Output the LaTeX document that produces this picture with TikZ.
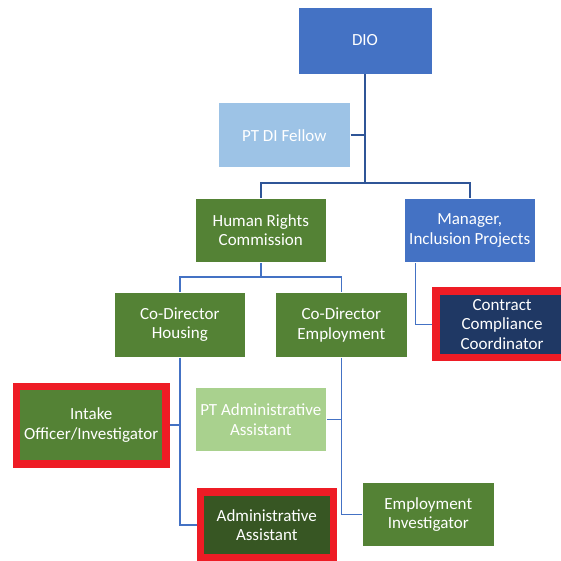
\documentclass[tikz,border=0pt]{standalone}
\usepackage{fontspec}
\setmainfont{Carlito}
\usetikzlibrary{calc}
\definecolor{cblue}{HTML}{4472C4}
\definecolor{clight}{HTML}{9DC3E6}
\definecolor{cgreen}{HTML}{548235}
\definecolor{cnavy}{HTML}{1F3864}
\definecolor{clgreen}{HTML}{A9D18E}
\definecolor{cdgreen}{HTML}{375623}
\definecolor{cred}{HTML}{EE1C25}
\definecolor{clineA}{HTML}{2F5597}
\definecolor{clineB}{HTML}{4472C4}
\tikzset{
  box/.style={rectangle, inner sep=0pt, align=center, text=white,
    font=\fontsize{17}{19.5}\selectfont, draw=white, line width=0.75pt},
  redbox/.style={box, draw=cred, line width=7.5pt},
  conA/.style={draw=clineA, line width=1.6pt},
  conB/.style={draw=clineB, line width=1.6pt},
}
\begin{document}
\begin{tikzpicture}[x=1pt,y=-1pt]
\useasboundingbox (0,0) rectangle (561,560);
\clip (0,0) rectangle (561,560);
\node[box, fill=cblue, minimum width=134pt, minimum height=67pt] (dio) at (365,40.5) {DIO};
\node[box, fill=clight, minimum width=132pt, minimum height=65pt] (ptdi) at (284.3,135.2) {PT DI Fellow};
\node[box, fill=cgreen, minimum width=131.7pt, minimum height=64.7pt] (hrc) at (260.8,230.3) {Human Rights\\Commission};
\node[box, fill=cblue, minimum width=131.3pt, minimum height=64.7pt] (mgr) at (469.7,230.3) {Manager,\\Inclusion Projects};
\node[box, fill=cgreen, minimum width=131.7pt, minimum height=65pt] (coh) at (179.8,324.8) {Co-Director\\Housing};
\node[box, fill=cgreen, minimum width=131.7pt, minimum height=65pt] (coe) at (341.3,324.8) {Co-Director\\Employment};
\node[redbox, fill=cnavy, minimum width=131.8pt, minimum height=66.6pt] (ccc) at (502.1,324.4) {Contract\\Compliance\\Coordinator};
\node[redbox, fill=cgreen, minimum width=149.9pt, minimum height=77.5pt] (intake) at (91.25,425) {Intake\\Officer/Investigator};
\node[box, fill=clgreen, minimum width=131.7pt, minimum height=64.4pt] (ptadmin) at (260.8,419.5) {PT Administrative\\Assistant};
\node[redbox, fill=cdgreen, minimum width=133pt, minimum height=66pt] (admin) at (266.8,525) {Administrative\\Assistant};
\node[box, fill=cgreen, minimum width=132pt, minimum height=64.4pt] (empinv) at (428.3,514.5) {Employment\\Investigator};
\coordinate (j1) at (365,182.7);
\coordinate (j2) at (260.8,276.7);
\draw[conA] (dio.south) -- (j1);
\draw[conA] (hrc.north) |- (j1) -| (mgr.north);
\draw[conA] (ptdi.east) -- (ptdi.east -| dio.south);
\draw[conB] (hrc.south) -- (j2);
\draw[conB] (coh.north) |- (j2) -| (coe.north);
\draw[conB] ($(mgr.south west)+(12pt,0)$) |- (ccc.west);
\draw[conB] (coh.south) |- (admin.west);
\draw[conB] (intake.east) -- (intake.east -| coh.south);
\draw[conB] (coe.south) |- (empinv.west);
\draw[conB] (ptadmin.east) -- (ptadmin.east -| coe.south);
\end{tikzpicture}
\end{document}
